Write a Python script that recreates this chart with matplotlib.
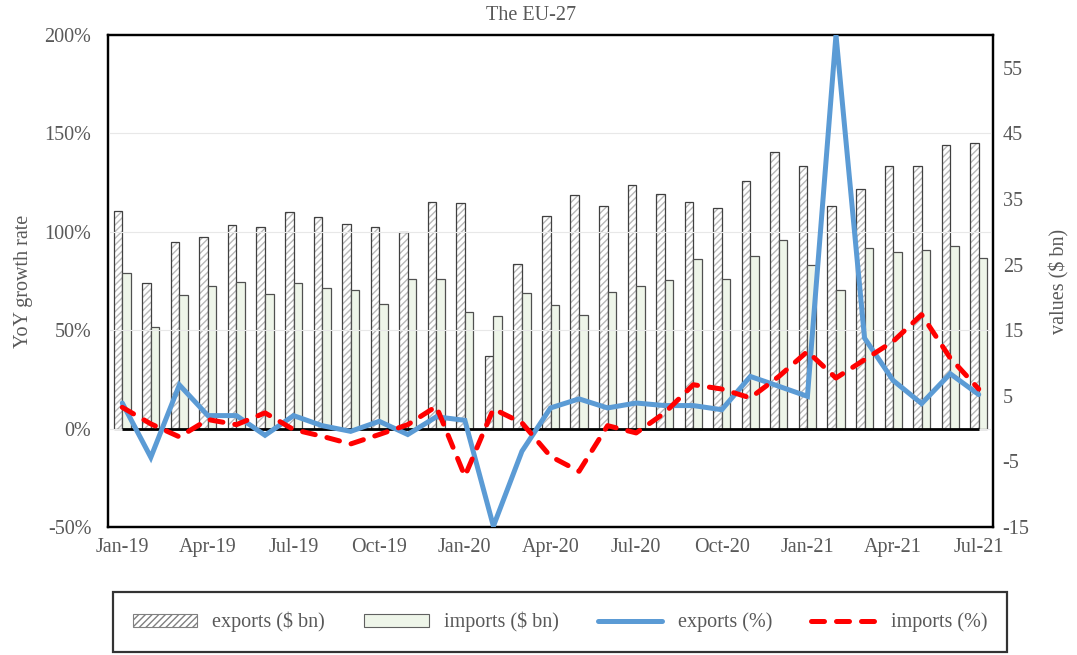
import matplotlib
matplotlib.use("Agg")
import matplotlib.pyplot as plt
import numpy as np
from matplotlib.patches import Patch
from matplotlib.lines import Line2D
from matplotlib.ticker import FuncFormatter

# Datos
meses = ['Jan-19', 'Feb-19', 'Mar-19', 'Apr-19', 'May-19', 'Jun-19', 'Jul-19', 'Aug-19',
         'Sep-19', 'Oct-19', 'Nov-19', 'Dec-19', 'Jan-20', 'Feb-20', 'Mar-20', 'Apr-20',
         'May-20', 'Jun-20', 'Jul-20', 'Aug-20', 'Sep-20', 'Oct-20', 'Nov-20', 'Dec-20',
         'Jan-21', 'Feb-21', 'Mar-21', 'Apr-21', 'May-21', 'Jun-21', 'Jul-21']

exports_bn = [33.2, 22.2, 28.5, 29.2, 31.0, 30.7, 33.0, 32.2, 31.2, 30.7, 29.9, 34.6,
              34.4, 11.1, 25.1, 32.4, 35.6, 34.0, 37.1, 35.8, 34.6, 33.6, 37.7, 42.1,
              40.0, 33.9, 36.6, 40.0, 40.0, 43.2, 43.5]
imports_bn = [23.7, 15.5, 20.3, 21.8, 22.3, 20.5, 22.2, 21.4, 21.1, 19.0, 22.8, 22.8,
              17.7, 17.1, 20.6, 18.8, 17.3, 20.8, 21.7, 22.6, 25.8, 22.8, 26.3, 28.7,
              24.9, 21.1, 27.6, 26.9, 27.3, 27.8, 26.0]
exports_pct = [13.0, -14.6, 22.2, 6.6, 6.6, -3.4, 6.6, 1.5, -1.4, 3.7, -3.0, 6.0,
               4.2, -49.6, -11.5, 10.5, 15.1, 10.5, 13.0, 11.7, 11.7, 9.6, 26.5, 21.5,
               16.4, 200.0, 46.0, 24.5, 12.7, 27.9, 17.3]
imports_pct = [10.8, 2.4, -4.2, 4.6, 2.0, 8.0, -0.5, -3.9, -7.8, -3.0, 2.0, 11.3,
               -24.2, 10.0, 2.9, -14.1, -21.7, 1.5, -2.2, 8.0, 22.3, 20.1, 15.6, 26.5,
               39.2, 25.7, 35.0, 44.3, 57.9, 35.9, 20.1]

plt.rcParams['font.family'] = ['Liberation Serif', 'DejaVu Serif']
plt.rcParams['axes.unicode_minus'] = False
gris = '#595959'
fs = 14.5

fig = plt.figure(figsize=(10.77, 6.55), dpi=100)
fig.subplots_adjust(left=108/1077, right=993/1077, top=1-35/655, bottom=1-527/655)
ax = fig.add_subplot(111)
ax2 = ax.twinx()
ax.set_zorder(ax2.get_zorder() + 1)
ax.patch.set_visible(False)

x = np.arange(len(meses))
w = 0.3

# Barras (eje derecho)
ax2.bar(x - w/2, exports_bn, width=w, facecolor='white', edgecolor='#b8b8b8',
        hatch='/////', linewidth=0, zorder=1)
ax2.bar(x - w/2, exports_bn, width=w, facecolor='none', edgecolor='#404040',
        linewidth=0.9, zorder=2)
ax2.bar(x + w/2, imports_bn, width=w, facecolor='#eef5e9', edgecolor='#505050',
        linewidth=0.9, zorder=2)

# Lineas (eje izquierdo)
ax.yaxis.grid(True, color='#e8e8e8', linewidth=0.8)
ax.set_axisbelow(True)
ax.hlines(0, x[0], x[-1], color='black', linewidth=2, zorder=3)
ax.plot(x, exports_pct, color='#5b9bd5', linewidth=3.6, solid_capstyle='round',
        solid_joinstyle='miter', zorder=4)
ax.plot(x, imports_pct, color='#ff0000', linewidth=3.6, linestyle=(0, (2.6, 2.4)),
        dash_capstyle='round', zorder=5)

ax.set_xlim(-0.5, len(meses) - 0.5)
ax.set_ylim(-50, 200)
ax2.set_ylim(-15, 60)
ax.set_yticks([-50, 0, 50, 100, 150, 200])
ax2.set_yticks([-15, -5, 5, 15, 25, 35, 45, 55])
ax.yaxis.set_major_formatter(FuncFormatter(lambda v, p: f'{v:.0f}%'))
ax.set_xticks(x[::3])
ax.set_xticklabels(meses[::3])

ax.tick_params(axis='y', length=0, pad=12, labelsize=fs, labelcolor=gris)
ax.tick_params(axis='x', length=0, pad=8, labelsize=fs, labelcolor=gris)
ax2.tick_params(axis='y', length=0, pad=7, labelsize=fs, labelcolor=gris)

for a in (ax, ax2):
    for s in a.spines.values():
        s.set_color('black')
        s.set_linewidth(1.6)

ax.set_ylabel('YoY growth rate', fontsize=fs, color=gris, labelpad=8)
ax2.set_ylabel('values ($ bn)', fontsize=fs, color=gris, labelpad=14)
fig.text(531/1077, 1-15/655, 'The EU-27', fontsize=fs, color=gris, ha='center', va='center')

handles = [
    Patch(facecolor='white', edgecolor='#808080', hatch='/////', linewidth=0.8),
    Patch(facecolor='#eef5e9', edgecolor='#606060', linewidth=0.8),
    Line2D([], [], color='#5b9bd5', linewidth=3.6, solid_capstyle='round'),
    Line2D([], [], color='#ff0000', linewidth=3.6, linestyle=(0, (2.6, 2.4)),
           dash_capstyle='round'),
]
labels = ['exports ($ bn)', 'imports ($ bn)', 'exports (%)', 'imports (%)']
leg = fig.legend(handles, labels, loc='center', ncol=4,
                 bbox_to_anchor=(560/1077, 1-622/655), frameon=True, fancybox=False,
                 fontsize=fs, handlelength=3.2, handleheight=0.6, handletextpad=0.75,
                 columnspacing=1.95, borderpad=1.0, labelcolor=gris)
leg.get_frame().set_edgecolor('black')
leg.get_frame().set_linewidth(1.6)

fig.savefig('out.png', dpi=100)
